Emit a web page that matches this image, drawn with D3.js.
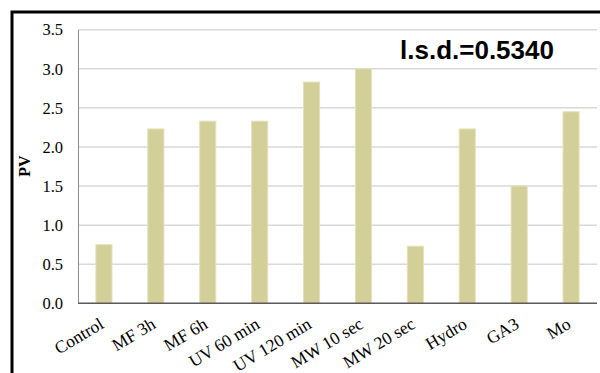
<!DOCTYPE html>
<html><head><meta charset="utf-8">
<script src="https://cdn.jsdelivr.net/npm/d3@7/dist/d3.min.js"></script>
<style>body{margin:0;background:#fff}svg{display:block}</style>
</head><body>
<svg id="c" width="600" height="373"></svg>
<script>
const categories = ["Control","MF 3h","MF 6h","UV 60 min","UV 120 min","MW 10 sec","MW 20 sec","Hydro","GA3","Mo"];
const values = [0.75,2.23,2.33,2.33,2.83,3.0,0.73,2.23,1.5,2.45];
const yTicks = [0,0.5,1.0,1.5,2.0,2.5,3.0,3.5];
const yLabel = "PV";
const lsdText = "l.s.d.=0.5340";

const svg = d3.select("#c");
const m = {l:78, r:597, t:29.7, b:303.3};
const x = d3.scaleBand().domain(categories).range([m.l, m.r]).paddingInner(0.69).paddingOuter(0.345);
const y = d3.scaleLinear().domain([0,3.5]).range([m.b, m.t]);

// frame
svg.append("rect").attr("x",12).attr("y",12).attr("width",700).attr("height",500)
  .attr("fill","none").attr("stroke","#000").attr("stroke-width",3);

// gridlines
svg.append("g").selectAll("line").data(yTicks.filter(d=>d>0)).join("line")
  .attr("x1",m.l).attr("x2",m.r).attr("y1",d=>y(d)).attr("y2",d=>y(d))
  .attr("stroke","#d9d9d9").attr("stroke-width",1.5);

// y axis
const ya = svg.append("g").attr("transform",`translate(${m.l},0)`)
  .call(d3.axisLeft(y).tickValues(yTicks).tickFormat(d3.format(".1f")).tickSize(0).tickPadding(15));
ya.select(".domain").attr("stroke","#8c8c8c").attr("stroke-width",1);
ya.selectAll("text").attr("font-family","'Liberation Serif', 'Times New Roman', serif").attr("font-size",16.5).attr("fill","#000");

// bars
svg.append("g").selectAll("rect").data(values).join("rect")
  .attr("x",(d,i)=>x(categories[i])).attr("width",x.bandwidth())
  .attr("y",d=>y(d)).attr("height",d=>y(0)-y(d))
  .attr("fill","#d3cf98").attr("stroke","#e4e1ba").attr("stroke-width",1);

// x baseline
svg.append("line").attr("x1",m.l).attr("x2",m.r).attr("y1",y(0)).attr("y2",y(0))
  .attr("stroke","#5a5a5a").attr("stroke-width",1.5);

// x labels
svg.append("g").selectAll("text").data(categories).join("text")
  .attr("transform",d=>`translate(${x(d)+x.bandwidth()/2+1},${y(0)+24}) rotate(-31)`)
  .attr("text-anchor","end")
  .attr("font-family","'Liberation Serif', 'Times New Roman', serif").attr("font-size",17.5).attr("fill","#000")
  .text(d=>d);

// y label
svg.append("text").attr("transform","translate(30,166) rotate(-90)").attr("text-anchor","middle")
  .attr("font-family","'Liberation Serif', 'Times New Roman', serif").attr("font-weight","bold").attr("font-size",16)
  .text(yLabel);

// lsd text
svg.append("text").attr("x",400).attr("y",59)
  .attr("font-family","'Liberation Sans', Arial, sans-serif").attr("font-weight","bold").attr("font-size",26).attr("fill","#000")
  .text(lsdText);
</script>
</body></html>
